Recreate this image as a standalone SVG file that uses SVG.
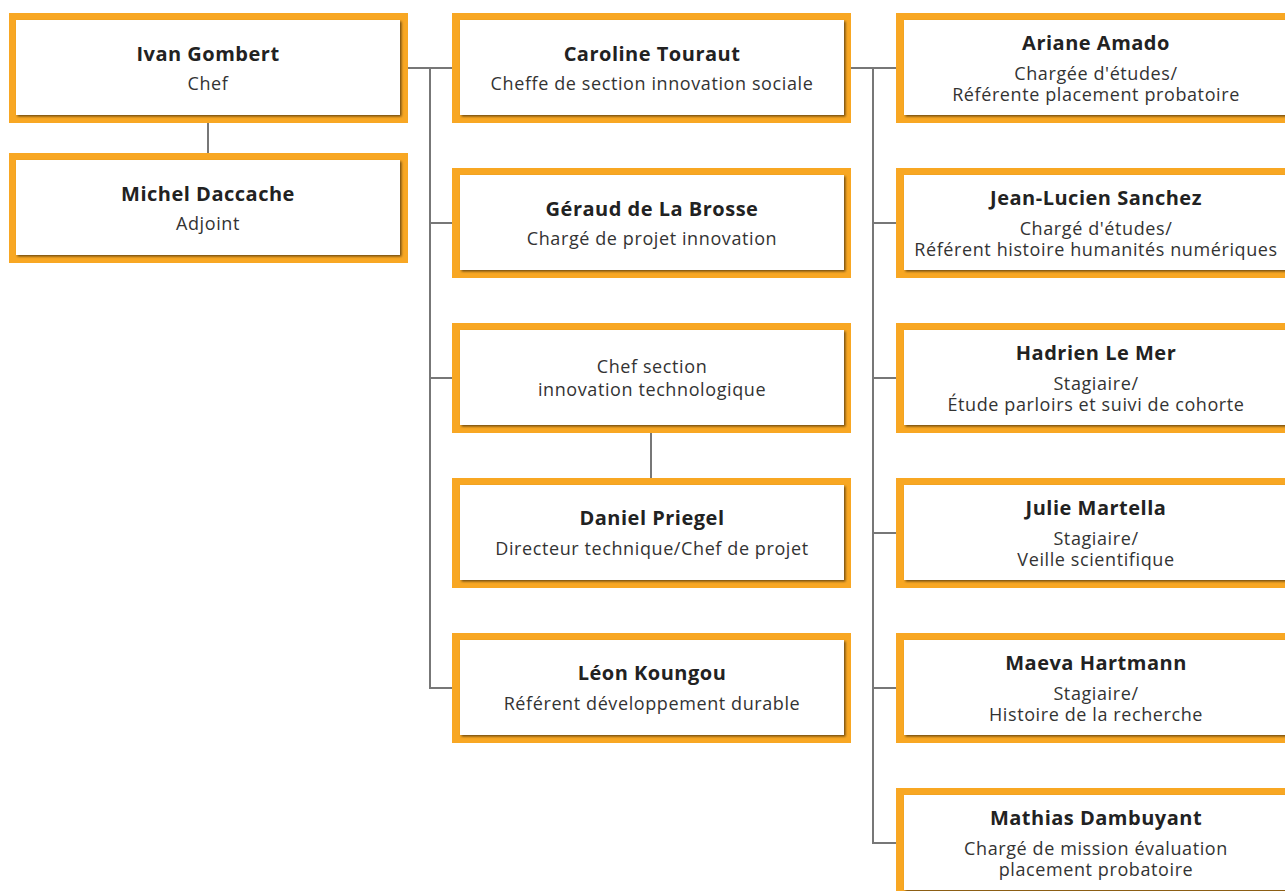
<svg xmlns="http://www.w3.org/2000/svg" width="1285" height="891" viewBox="0 0 1285 891">
<defs>
<filter id="sh" x="-5%" y="-10%" width="110%" height="125%">
<feDropShadow dx="1.5" dy="1.5" stdDeviation="1" flood-color="#000" flood-opacity="0.55"/>
</filter>
<style>
.o{fill:#F8A723}
.i{fill:#fff;filter:url(#sh)}
.n{font-family:"Open Sans","Noto Sans",sans-serif;font-weight:700;font-size:20px;letter-spacing:0.5px;fill:#222;text-anchor:middle}
.s{font-family:"Open Sans","Noto Sans",sans-serif;font-size:18px;letter-spacing:0.6px;fill:#333;text-anchor:middle}
.c{fill:none;stroke:#777;stroke-width:2}
</style>
</defs>
<rect width="1285" height="891" fill="#fff"/>
<g id="connectors">
<path class="c" d="M208 123V153"/>
<path class="c" d="M408 68H452M430 68V688H452M430 223H452M430 378H452"/>
<path class="c" d="M651 433V478"/>
<path class="c" d="M851 68H896M873 68V843H896M873 223H896M873 378H896M873 533H896M873 688H896"/>
</g>
<g id="ivan"><rect class="o" x="9" y="13" width="399" height="110"/><rect class="i" x="16" y="20" width="384" height="95"/>
<text class="n" x="208" y="61">Ivan Gombert</text><text class="s" x="208" y="90">Chef</text></g>
<g id="michel"><rect class="o" x="9" y="153" width="399" height="110"/><rect class="i" x="16" y="160" width="384" height="95"/>
<text class="n" x="208" y="201">Michel Daccache</text><text class="s" x="208" y="230">Adjoint</text></g>
<g id="caroline"><rect class="o" x="452" y="13" width="399" height="110"/><rect class="i" x="460" y="20" width="384" height="95"/>
<text class="n" x="652" y="61">Caroline Touraut</text><text class="s" x="652" y="90">Cheffe de section innovation sociale</text></g>
<g id="geraud"><rect class="o" x="452" y="168" width="399" height="110"/><rect class="i" x="460" y="175" width="384" height="95"/>
<text class="n" x="652" y="216">Géraud de La Brosse</text><text class="s" x="652" y="245">Chargé de projet innovation</text></g>
<g id="chef-section"><rect class="o" x="452" y="323" width="399" height="110"/><rect class="i" x="460" y="330" width="384" height="95"/>
<text class="s" x="652" y="373">Chef section</text><text class="s" x="652" y="396">innovation technologique</text></g>
<g id="daniel"><rect class="o" x="452" y="478" width="399" height="110"/><rect class="i" x="460" y="485" width="384" height="95"/>
<text class="n" x="652" y="525">Daniel Priegel</text><text class="s" x="652" y="555">Directeur technique/Chef de projet</text></g>
<g id="leon"><rect class="o" x="452" y="633" width="399" height="110"/><rect class="i" x="460" y="640" width="384" height="95"/>
<text class="n" x="652" y="680">Léon Koungou</text><text class="s" x="652" y="710">Référent développement durable</text></g>
<g id="ariane"><rect class="o" x="896" y="13" width="399" height="110"/><rect class="i" x="904" y="20" width="384" height="95"/>
<text class="n" x="1096" y="50">Ariane Amado</text><text class="s" x="1096" y="80">Chargée d'études/</text><text class="s" x="1096" y="101">Référente placement probatoire</text></g>
<g id="jean-lucien"><rect class="o" x="896" y="168" width="399" height="110"/><rect class="i" x="904" y="175" width="384" height="95"/>
<text class="n" x="1096" y="205">Jean-Lucien Sanchez</text><text class="s" x="1096" y="235">Chargé d'études/</text><text class="s" x="1096" y="256">Référent histoire humanités numériques</text></g>
<g id="hadrien"><rect class="o" x="896" y="323" width="399" height="110"/><rect class="i" x="904" y="330" width="384" height="95"/>
<text class="n" x="1096" y="360">Hadrien Le Mer</text><text class="s" x="1096" y="390">Stagiaire/</text><text class="s" x="1096" y="411">Étude parloirs et suivi de cohorte</text></g>
<g id="julie"><rect class="o" x="896" y="478" width="399" height="110"/><rect class="i" x="904" y="485" width="384" height="95"/>
<text class="n" x="1096" y="515">Julie Martella</text><text class="s" x="1096" y="545">Stagiaire/</text><text class="s" x="1096" y="566">Veille scientifique</text></g>
<g id="maeva"><rect class="o" x="896" y="633" width="399" height="110"/><rect class="i" x="904" y="640" width="384" height="95"/>
<text class="n" x="1096" y="670">Maeva Hartmann</text><text class="s" x="1096" y="700">Stagiaire/</text><text class="s" x="1096" y="721">Histoire de la recherche</text></g>
<g id="mathias"><rect class="o" x="896" y="788" width="399" height="110"/><rect class="i" x="904" y="795" width="384" height="95"/>
<text class="n" x="1096" y="825">Mathias Dambuyant</text><text class="s" x="1096" y="855">Chargé de mission évaluation</text><text class="s" x="1096" y="876">placement probatoire</text></g>
</svg>
